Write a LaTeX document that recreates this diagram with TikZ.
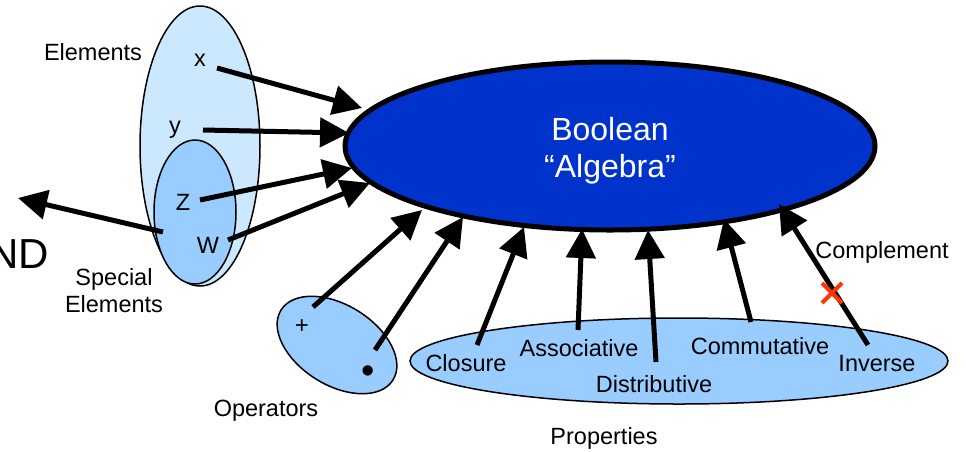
\documentclass[tikz,border=0pt]{standalone}
\usepackage{fontspec}
\setmainfont{Liberation Sans}
\usetikzlibrary{shapes.geometric,arrows.meta}
\definecolor{lightblue}{HTML}{CCE8FF}
\definecolor{midblue}{HTML}{99CCFF}
\definecolor{deepblue}{HTML}{0033CC}
\definecolor{crossred}{HTML}{FF3300}
\begin{document}
\begin{tikzpicture}[x=1pt,y=-1pt,
  lbl/.style={font=\fontsize{23.5}{27}\selectfont, inner sep=0pt, text height=16.8pt, text depth=0pt},
  setshape/.style={ellipse, draw=black, line width=1.5pt, inner sep=0pt},
  bigarrow/.style={line width=5pt, -{Triangle[length=29pt,width=29pt]}},
  crossline/.style={line width=4pt, draw=crossred}]
\useasboundingbox (0,0) rectangle (966,451);
\clip (0,0) rectangle (966,451);

% sets
\node[setshape, fill=lightblue, minimum width=120pt, minimum height=280pt] (elem) at (200,146) {};
\node[setshape, fill=midblue, minimum width=82pt, minimum height=144pt] (spec) at (195,212) {};
\node[setshape, fill=midblue, minimum width=132pt, minimum height=80pt, rotate=-32] (ops) at (337,345) {};
\node[setshape, fill=midblue, minimum width=538pt, minimum height=86pt] (props) at (679,361) {};
\node[ellipse, draw=black, line width=5pt, fill=deepblue, minimum width=530pt, minimum height=168pt, inner sep=0pt] (B) at (610,146) {};
\node[font=\fontsize{32}{37}\selectfont, text=white, align=center, inner sep=0pt, text height=23pt, text depth=0pt] (BL) at (610,166) {Boolean\\“Algebra”};

% labels
\node[lbl] (lelem) at (93,52) {Elements};
\node[lbl] (lx) at (200,58) {x};
\node[lbl] (ly) at (175,125) {y};
\node[lbl] (lz) at (183,202) {Z};
\node[lbl] (lw) at (208,245) {W};
\node[lbl, align=center] (lspec) at (114,304) {Special\\Elements};
\node[lbl] (lops) at (266,408) {Operators};
\node[lbl] (lprops) at (604,436) {Properties};
\node[lbl] (lclos) at (466,363) {Closure};
\node[lbl] (lass) at (579,348) {Associative};
\node[lbl] (ldist) at (654,384) {Distributive};
\node[lbl] (lcomm) at (760,346) {Commutative};
\node[lbl] (linv) at (877,363) {Inverse};
\node[lbl] (lcompl) at (882,250) {Complement};
\node[font=\fontsize{24}{28}\selectfont, inner sep=0pt] (lplus) at (302,327) {+};
\node[font=\fontsize{38}{42}\selectfont, inner sep=0pt] (ldot) at (368,375) {•};
\node[font=\fontsize{42}{48}\selectfont, inner sep=0pt, anchor=west, text height=30pt, text depth=0pt] (nd) at (-12,253) {ND};

% connector end points
\coordinate (xs) at (217,68);   \coordinate (xt) at (362,108);
\coordinate (ys) at (203,130);  \coordinate (yt) at (349,133);
\coordinate (zs) at (200,200);  \coordinate (zt) at (352,168);
\coordinate (ws) at (228,240);  \coordinate (wt) at (370,183);
\coordinate (ns) at (163,232);  \coordinate (nt) at (18,198);
\coordinate (ps) at (313,307);  \coordinate (pt) at (422,210);
\coordinate (ds) at (375,350);  \coordinate (dt) at (463,217);
\coordinate (cls) at (477,345); \coordinate (clt) at (524,227);
\coordinate (ass) at (578,330); \coordinate (ast) at (582,229);
\coordinate (dis) at (656,362); \coordinate (dit) at (648,230);
\coordinate (cos) at (751,322); \coordinate (cot) at (724,219);
\coordinate (ins) at (868,345); \coordinate (int) at (779,204);

\draw[bigarrow] (xs) -- (xt);
\draw[bigarrow] (ys) -- (yt);
\draw[bigarrow] (zs) -- (zt);
\draw[bigarrow] (ws) -- (wt);
\draw[bigarrow] (ns) -- (nt);
\draw[bigarrow] (ps) -- (pt);
\draw[bigarrow] (ds) -- (dt);
\draw[bigarrow] (cls) -- (clt);
\draw[bigarrow] (ass) -- (ast);
\draw[bigarrow] (dis) -- (dit);
\draw[bigarrow] (cos) -- (cot);
\draw[bigarrow] (ins) -- (int);

% red cross
\coordinate (xa) at (822,283); \coordinate (xb) at (842,303);
\coordinate (xc) at (842,283); \coordinate (xd) at (822,303);
\draw[crossline] (xa) -- (xb);
\draw[crossline] (xc) -- (xd);
\end{tikzpicture}
\end{document}
